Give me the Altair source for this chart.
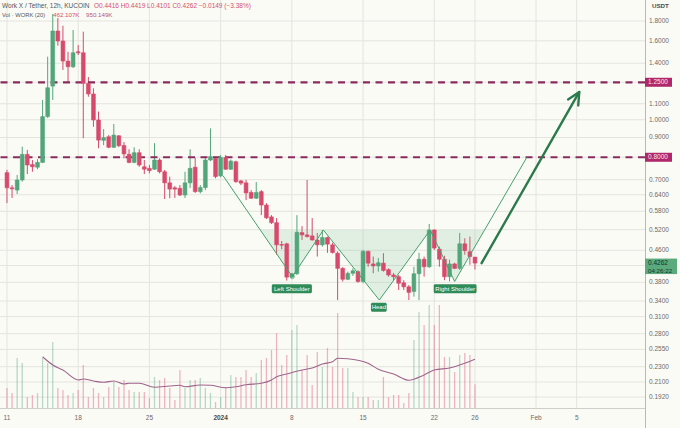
import math

import altair as alt
import pandas as pd

# ---------------------------------------------------------------------------
# WORK / USDT, 12h candles on KuCoin, first candle 11 Dec 2023 00:00
# ---------------------------------------------------------------------------
open_ = [0.730, 0.667, 0.658, 0.699, 0.814, 0.766, 0.754, 0.776, 1.019, 1.222,
         1.696, 1.598, 1.418, 1.371, 1.499, 1.490, 1.242, 1.166, 0.999, 0.885,
         0.904, 0.849, 0.909, 0.858, 0.814, 0.776, 0.822, 0.756, 0.749, 0.745,
         0.787, 0.734, 0.687, 0.667, 0.665, 0.639, 0.687, 0.754, 0.652, 0.668,
         0.787, 0.795, 0.716, 0.799, 0.745, 0.779, 0.695, 0.687, 0.649, 0.627,
         0.652, 0.602, 0.561, 0.542, 0.476, 0.478, 0.392, 0.400, 0.511, 0.504,
         0.501, 0.489, 0.475, 0.496, 0.475, 0.452, 0.413, 0.387, 0.401, 0.405,
         0.382, 0.457, 0.424, 0.419, 0.426, 0.410, 0.397, 0.393, 0.379, 0.370,
         0.360, 0.400, 0.436, 0.417, 0.519, 0.463, 0.436, 0.393, 0.424, 0.413,
         0.478, 0.456, 0.4416]
high = [0.742, 0.678, 0.720, 0.852, 0.836, 0.787, 0.791, 1.125, 1.456, 1.876,
        1.832, 1.750, 1.499, 1.706, 1.560, 1.689, 1.290, 1.206, 1.050, 0.946,
        0.913, 0.975, 0.913, 0.876, 0.839, 0.849, 0.839, 0.787, 0.764, 0.870,
        0.795, 0.742, 0.713, 0.674, 0.678, 0.734, 0.839, 0.798, 0.678, 0.803,
        0.950, 0.803, 0.811, 0.811, 0.789, 0.784, 0.699, 0.699, 0.658, 0.690,
        0.658, 0.609, 0.567, 0.557, 0.486, 0.481, 0.402, 0.567, 0.531, 0.699,
        0.557, 0.510, 0.519, 0.499, 0.481, 0.457, 0.416, 0.405, 0.413, 0.408,
        0.461, 0.459, 0.443, 0.439, 0.452, 0.413, 0.402, 0.397, 0.385, 0.374,
        0.417, 0.453, 0.443, 0.538, 0.521, 0.470, 0.445, 0.435, 0.427, 0.510,
        0.494, 0.499, 0.4419]
low = [0.609, 0.628, 0.643, 0.692, 0.724, 0.734, 0.745, 0.773, 1.011, 1.125,
       1.554, 1.345, 1.245, 1.361, 1.470, 0.896, 1.147, 0.959, 0.844, 0.860,
       0.844, 0.845, 0.850, 0.795, 0.772, 0.772, 0.756, 0.724, 0.727, 0.742,
       0.727, 0.624, 0.627, 0.628, 0.635, 0.628, 0.666, 0.647, 0.645, 0.658,
       0.782, 0.706, 0.710, 0.742, 0.742, 0.687, 0.678, 0.620, 0.624, 0.624,
       0.567, 0.554, 0.538, 0.448, 0.463, 0.384, 0.390, 0.397, 0.489, 0.496,
       0.487, 0.443, 0.470, 0.453, 0.451, 0.342, 0.382, 0.385, 0.395, 0.379,
       0.378, 0.417, 0.401, 0.405, 0.405, 0.393, 0.385, 0.363, 0.363, 0.342,
       0.349, 0.342, 0.393, 0.414, 0.461, 0.417, 0.385, 0.382, 0.411, 0.409,
       0.448, 0.422, 0.4101]
close = [0.667, 0.663, 0.699, 0.814, 0.764, 0.756, 0.776, 1.019, 1.210, 1.696,
         1.598, 1.418, 1.371, 1.490, 1.490, 1.242, 1.166, 0.999, 0.886, 0.899,
         0.849, 0.913, 0.857, 0.816, 0.776, 0.822, 0.764, 0.745, 0.739, 0.787,
         0.734, 0.687, 0.662, 0.662, 0.639, 0.687, 0.749, 0.652, 0.668, 0.787,
         0.803, 0.713, 0.799, 0.745, 0.782, 0.692, 0.686, 0.647, 0.627, 0.649,
         0.602, 0.558, 0.542, 0.475, 0.474, 0.392, 0.400, 0.512, 0.504, 0.499,
         0.489, 0.475, 0.496, 0.477, 0.454, 0.413, 0.387, 0.401, 0.407, 0.382,
         0.457, 0.426, 0.419, 0.427, 0.408, 0.397, 0.393, 0.378, 0.370, 0.358,
         0.400, 0.436, 0.417, 0.519, 0.466, 0.436, 0.393, 0.424, 0.413, 0.478,
         0.459, 0.443, 0.4262]
# volume per candle, thousands of WORK
volume_k = [390, 293, 975, 878, 215, 254, 293, 975, 878, 1287,
            390, 351, 254, 293, 351, 839, 215, 390, 293, 215,
            410, 507, 410, 546, 351, 312, 312, 312, 195, 605,
            546, 585, 390, 156, 741, 390, 546, 546, 585, 390,
            293, 117, 215, 410, 644, 605, 605, 741, 605, 683,
            936, 975, 1131, 1463, 839, 1034, 1521, 1619, 741, 1034,
            449, 1092, 800, 1170, 800, 1853, 780, 780, 312, 215,
            215, 215, 156, 156, 605, 215, 254, 254, 98, 293,
            1326, 1872, 1619, 2009, 1619, 2009, 995, 995, 702, 1034,
            1073, 1034, 462.107]
# 20-period volume average (candle number, thousands)
ma_candle = [7, 9, 11, 14, 15, 17, 19, 21, 23, 24, 26, 29, 32, 34, 35, 38, 40, 43, 45,
             47, 50, 52, 53, 55, 58, 60, 62, 64, 65, 67, 71, 73, 76, 79, 82, 84, 87, 90, 92]
ma_value = [1000, 839, 741, 546, 566, 527, 501, 527, 468, 482, 482, 404, 429, 443, 415,
            449, 443, 396, 415, 454, 482, 546, 610, 663, 741, 780, 858, 903, 969, 961,
            872, 755, 663, 540, 644, 741, 780, 872, 950.149]

# time axis in days since 11 Dec 2023
tick_days = [0, 7, 14, 21, 28, 35, 42, 46, 52, 56]
tick_labels = ["11", "18", "25", "2024", "8", "15", "22", "26", "Feb", "5"]
year_label = "2024"
price_ticks = [1.8, 1.6, 1.4, 1.25, 1.1, 1.0, 0.9, 0.8, 0.7, 0.64, 0.58, 0.52,
               0.46, 0.42, 0.38, 0.34, 0.31, 0.28, 0.255, 0.23, 0.21, 0.192]
covered_ticks = [1.25, 0.8, 0.42]

# horizontal key levels
levels = [1.25, 0.8]

# inverse head-and-shoulders drawing
pattern_t = [21.25, 28.05, 31.1, 36.6, 41.6, 44.0, 51.1]
pattern_p = [0.716, 0.393, 0.519, 0.342, 0.519, 0.382, 0.80]
fill_t = [24.9, 28.05, 31.1, 36.6, 41.6, 44.0, 46.95]
fill_p = [0.519, 0.393, 0.519, 0.342, 0.519, 0.382, 0.519]
neckline = 0.519
label_text = ["Left Shoulder", "Head", "Right Shoulder"]
label_t = [28.0, 36.55, 44.05]
label_p = [0.3656, 0.3278, 0.3656]

# projected breakout arrow
arrow_t = [46.65, 56.25]
arrow_p = [0.426, 1.180]
arrow_head_t = [55.15, 56.25, 56.15]
arrow_head_p = [1.129, 1.180, 1.089]

last_price = 0.4262
countdown = "04:26:22"

# ---------------------------------------------------------------------------
W, H = 645, 408
X_DOMAIN = [-0.194, 62.22]
Y_DOMAIN = [0.1799, 2.0397]
VOL_DOMAIN = [0, 7956]
DAYS_PER_PX = (X_DOMAIN[1] - X_DOMAIN[0]) / W
LOG_PER_PX = math.log(Y_DOMAIN[1] / Y_DOMAIN[0]) / H

GREEN = "#53a57a"
RED = "#d64a6b"
GRID = "#e4e4df"
LEVEL = "#8b2c5f"
LEVEL_BOX = "#b0286a"
PATTERN = "#45a06b"
ARROW = "#2b7a4b"
TAG = "#2f8b57"
AXIS_TEXT = "#6a6a6a"
FONT = "Liberation Sans"


def shift_price(p, px):
    """Price lying px pixels below p on the log axis (negative = above)."""
    return p * math.exp(-px * LOG_PER_PX)


xs = alt.Scale(domain=X_DOMAIN, nice=False, zero=False)
ys = alt.Scale(type="log", domain=Y_DOMAIN, nice=False, zero=False)
vs = alt.Scale(domain=VOL_DOMAIN, nice=False, zero=True)
dir_scale = alt.Scale(domain=["up", "down"], range=[GREEN, RED])


def X(field):
    return alt.X(field, scale=xs, axis=None)


def Y(field):
    return alt.Y(field, scale=ys, axis=None)


candles = pd.DataFrame({
    "t": [i * 0.5 for i in range(len(close))],
    "open": open_, "high": high, "low": low, "close": close, "vol": volume_k,
})
candles["dir"] = ["up" if c >= o else "down" for o, c in zip(open_, close)]

# --- grid and axis labels ---------------------------------------------------
grid_h = alt.Chart(pd.DataFrame({"p": price_ticks})).mark_rule(color=GRID, strokeWidth=1).encode(y=Y("p:Q"))
grid_v = alt.Chart(pd.DataFrame({"d": tick_days})).mark_rule(color=GRID, strokeWidth=1).encode(x=X("d:Q"))

ylab = pd.DataFrame({"p": [p for p in price_ticks if p not in covered_ticks]})
ylab["txt"] = [f"{p:.4f}" for p in ylab["p"]]
y_labels = alt.Chart(ylab).mark_text(
    align="left", baseline="middle", fontSize=6.5, color=AXIS_TEXT, font=FONT
).encode(x=alt.value(649), y=Y("p:Q"), text="txt:N")

xlab = pd.DataFrame({"d": tick_days, "txt": tick_labels})
x_labels = alt.Chart(xlab[xlab.txt != year_label]).mark_text(
    align="center", baseline="middle", fontSize=6.5, color=AXIS_TEXT, font=FONT
).encode(x=X("d:Q"), y=alt.value(418), text="txt:N")
x_year = alt.Chart(xlab[xlab.txt == year_label]).mark_text(
    align="center", baseline="middle", fontSize=6.5, color="#4a4a4a", font=FONT, fontWeight="bold"
).encode(x=X("d:Q"), y=alt.value(418), text="txt:N")

frame = pd.DataFrame({"k": [0]})
bottom_line = alt.Chart(frame).mark_rule(color="#cfcfca", strokeWidth=1).encode(
    x=alt.value(0), x2=alt.value(645), y=alt.value(408.5))
right_line = alt.Chart(frame).mark_rule(color="#b9b9b4", strokeWidth=1).encode(
    x=alt.value(645.5), y=alt.value(0), y2=alt.value(428))

# --- volume pane (own scale) ------------------------------------------------
vol_bars = alt.Chart(candles).mark_bar(width=1.3, opacity=0.4).encode(
    x=X("t:Q"),
    y=alt.Y("vol:Q", scale=vs, axis=None),
    color=alt.Color("dir:N", scale=dir_scale, legend=None),
)
ma_df = pd.DataFrame({"t": [c * 0.5 for c in ma_candle], "ma": ma_value})
vol_ma = alt.Chart(ma_df).mark_line(color="#a0648c", strokeWidth=1.1, interpolate="monotone").encode(
    x=X("t:Q"), y=alt.Y("ma:Q", scale=vs, axis=None),
)

# --- price pane ---------------------------------------------------------------
wicks = alt.Chart(candles).mark_rule(strokeWidth=1).encode(
    x=X("t:Q"), y=Y("low:Q"), y2="high:Q",
    color=alt.Color("dir:N", scale=dir_scale, legend=None),
)
bodies = alt.Chart(candles).mark_bar(width=3.8, strokeWidth=0.6).encode(
    x=X("t:Q"), y=Y("open:Q"), y2="close:Q",
    color=alt.Color("dir:N", scale=dir_scale, legend=None),
    stroke=alt.Stroke("dir:N", scale=dir_scale, legend=None),
)

lv_df = pd.DataFrame({"p": levels, "txt": [f"{p:.4f}" for p in levels]})
lv_df["lo"] = [shift_price(p, 4.5) for p in levels]
lv_df["hi"] = [shift_price(p, -4.5) for p in levels]
level_lines = alt.Chart(lv_df).mark_rule(color=LEVEL, strokeWidth=2.2, strokeDash=[7, 5.5]).encode(y=Y("p:Q"))
level_boxes = alt.Chart(lv_df).mark_rect(color=LEVEL_BOX).encode(
    x=alt.value(645), x2=alt.value(672), y=Y("lo:Q"), y2="hi:Q")
level_labels = alt.Chart(lv_df).mark_text(
    align="left", baseline="middle", fontSize=6.5, color="#fbe4ee", font=FONT
).encode(x=alt.value(648), y=Y("p:Q"), text="txt:N")

fill_df = pd.DataFrame({"t": fill_t, "p": fill_p, "top": [neckline] * len(fill_t)})
pattern_fill = alt.Chart(fill_df).mark_area(color="#5cb882", opacity=0.17).encode(
    x=X("t:Q"), y=Y("p:Q"), y2="top:Q")
pat_df = pd.DataFrame({"t": pattern_t, "p": pattern_p})
pattern_line = alt.Chart(pat_df).mark_line(color=PATTERN, strokeWidth=1).encode(x=X("t:Q"), y=Y("p:Q"))
shoulder_mark = alt.Chart(pat_df.iloc[[1]]).mark_point(
    shape="circle", filled=False, size=16, color=PATTERN, strokeWidth=1
).encode(x=X("t:Q"), y=Y("p:Q"))

tag_df = pd.DataFrame({"txt": label_text, "t": label_t, "p": label_p})
tag_w = [2.75 * len(s) + 5 for s in label_text]
tag_df["t0"] = [t - w / 2 * DAYS_PER_PX for t, w in zip(label_t, tag_w)]
tag_df["t1"] = [t + w / 2 * DAYS_PER_PX for t, w in zip(label_t, tag_w)]
tag_df["lo"] = [shift_price(p, 4.5) for p in label_p]
tag_df["hi"] = [shift_price(p, -4.5) for p in label_p]
tag_boxes = alt.Chart(tag_df).mark_rect(color=TAG, cornerRadius=1.5).encode(
    x=X("t0:Q"), x2="t1:Q", y=Y("lo:Q"), y2="hi:Q")
tag_text = alt.Chart(tag_df).mark_text(
    fontSize=6, color="#ffffff", baseline="middle", font=FONT
).encode(x=X("t:Q"), y=Y("p:Q"), text="txt:N")

arr_df = pd.DataFrame({"t": arrow_t, "p": arrow_p})
arrow = alt.Chart(arr_df).mark_line(color=ARROW, strokeWidth=2.4, strokeCap="round").encode(
    x=X("t:Q"), y=Y("p:Q"))
head_df = pd.DataFrame({"t": arrow_head_t, "p": arrow_head_p, "k": [0, 1, 2]})
arrow_head = alt.Chart(head_df).mark_line(
    color=ARROW, strokeWidth=2.4, strokeCap="round", strokeJoin="round"
).encode(x=X("t:Q"), y=Y("p:Q"), order="k:Q")

last_df = pd.DataFrame({
    "p": [last_price], "p2": [shift_price(last_price, 7.5)],
    "lo": [shift_price(last_price, 11)], "hi": [shift_price(last_price, -4.5)],
    "txt": [f"{last_price:.4f}"], "cd": [countdown],
})
last_box = alt.Chart(last_df).mark_rect(color="#5aaa7e").encode(
    x=alt.value(645), x2=alt.value(677), y=Y("lo:Q"), y2="hi:Q")
last_text = alt.Chart(last_df).mark_text(
    align="left", baseline="middle", fontSize=6.5, color="#173424", font=FONT
).encode(x=alt.value(648), y=Y("p:Q"), text="txt:N")
last_cd = alt.Chart(last_df).mark_text(
    align="left", baseline="middle", fontSize=6.2, color="#173424", font=FONT
).encode(x=alt.value(648), y=Y("p2:Q"), text="cd:N")


# --- header / currency ---------------------------------------------------------
def header(text, x, y, color, size=6.5, **kw):
    return alt.Chart(pd.DataFrame({"s": [text]})).mark_text(
        align="left", baseline="middle", fontSize=size, color=color, font=FONT, **kw
    ).encode(x=alt.value(x), y=alt.value(y), text="s:N")


head_lines = [
    header("Work X / Tether, 12h, KUCOIN", 2, 6, "#555555"),
    header("O0.4416 H0.4419 L0.4101 C0.4262 \u22120.0149 (\u22123.38%)", 94, 6, "#d2506f"),
    header("Vol \u00b7 WORK (20)", 2, 14.5, "#555555", size=5.8),
    header("462.107K", 53, 14.5, "#d2506f", size=6.2),
    header("950.149K", 86, 14.5, "#b2557f", size=6.2),
    header("USDT", 652, 6, "#4a4a4a", size=6.2, fontWeight="bold"),
]

chart = alt.layer(
    grid_h, grid_v, vol_bars, vol_ma,
    wicks, pattern_fill, level_lines, bodies, pattern_line, shoulder_mark,
    arrow, arrow_head, tag_boxes, tag_text,
    bottom_line, right_line, y_labels, x_labels, x_year,
    level_boxes, level_labels, last_box, last_text, last_cd, *head_lines,
).resolve_scale(y="independent").properties(
    width=W, height=H,
    autosize=alt.AutoSizeParams(type="none"),
    padding={"left": 0, "top": 0, "right": 35, "bottom": 20},
    background="#fbfbf6",
).configure_view(stroke=None)

chart.save("out.html", embed_options={"renderer": "svg", "actions": False})
